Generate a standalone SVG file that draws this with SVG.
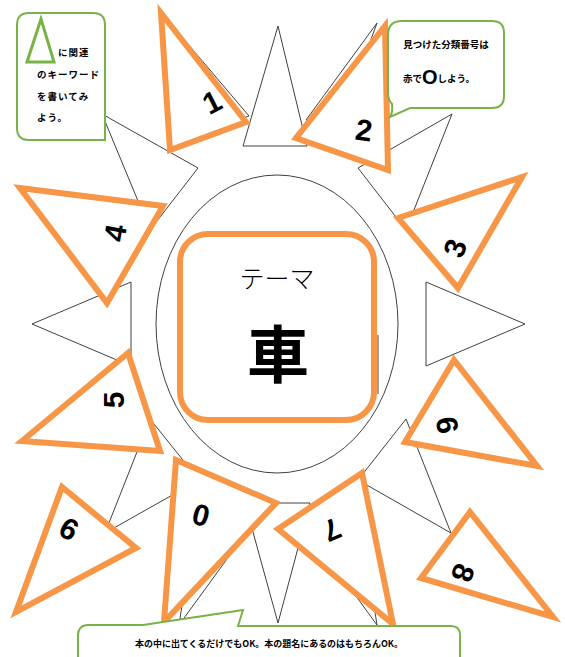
<svg xmlns="http://www.w3.org/2000/svg" width="565" height="657" viewBox="0 0 565 657">
<style>
.ray{fill:#fff;stroke:#404040;stroke-width:1}
.tri{fill:#fff;stroke:#F79646;stroke-width:6;stroke-linejoin:miter}
.num{font-family:"Liberation Sans",Arial,sans-serif;font-weight:bold;font-size:30px;fill:#000;text-anchor:middle;dominant-baseline:central}
.gr{fill:#fff;stroke:#77B347;stroke-width:2}
.jp{font-family:"Noto Sans CJK JP",sans-serif;font-weight:bold;fill:#000}
</style>
<rect width="565" height="657" fill="#fff"/>
<g id="rays">
<polygon class="ray" points="377,23 306,120 335,138"/>
<polygon class="ray" points="165,17 249,116 185,138"/>
<polygon class="ray" points="278,26 243,146 307,146"/>
<polygon class="ray" points="102,114 198,168 150,230"/>
<polygon class="ray" points="452,114 358,168 406,230"/>
<polygon class="ray" points="32,324 131,282 131,366"/>
<polygon class="ray" points="525,324 426,282 426,366"/>
<polygon class="ray" points="105,533 199,480 150,419"/>
<polygon class="ray" points="451,533 358,480 406,419"/>
<polygon class="ray" points="377,625 305,526 355,483"/>
<polygon class="ray" points="179,625 251,526 201,483"/>
<polygon class="ray" points="278,623 245,503 310,503"/>
</g>
<g id="sun">
<ellipse cx="277" cy="324" rx="121" ry="149" fill="#fff" stroke="#404040" stroke-width="1"/>
<line x1="378" y1="335" x2="378" y2="394" stroke="#808080" stroke-width="1.5"/>
<rect x="180" y="234" width="194" height="186" rx="28" fill="#fff" stroke="#F79646" stroke-width="6"/>
<text x="277" y="288" font-family="Noto Sans CJK JP,sans-serif" font-weight="300" font-size="25" text-anchor="middle" fill="#000">テーマ</text>
<text x="278" y="378" class="jp" font-size="62" font-weight="900" text-anchor="middle">車</text>
</g>
<g id="t1"><polygon class="tri" points="161,13 246,122 170,150"/><text class="num" transform="translate(212,102) rotate(-27)">1</text></g>
<g id="t2"><polygon class="tri" points="385,26 296,138 388,170"/><text class="num" transform="translate(364,130) rotate(8)">2</text></g>
<g id="t3"><polygon class="tri" points="398,218 522,177 458,288"/><text class="num" transform="translate(455,248) rotate(-70)">3</text></g>
<g id="t4"><polygon class="tri" points="20,188 163,206 107,303"/><text class="num" transform="translate(115,233) rotate(-80)">4</text></g>
<g id="t5"><polygon class="tri" points="128,353 22,441 160,451"/><text class="num" transform="translate(113,400) rotate(-90)">5</text></g>
<g id="t9"><polygon class="tri" points="454,360 405,442 537,466"/><text class="num" transform="translate(447,425) rotate(-100)">9</text></g>
<g id="t6"><polygon class="tri" points="62,487 136,548 16,612"/><text class="num" transform="translate(69,529) rotate(28)">6</text></g>
<g id="t0"><polygon class="tri" points="176,460 276,503 164,622"/><text class="num" transform="translate(201,515) rotate(15)">0</text></g>
<g id="t7"><polygon class="tri" points="362,473 278,529 393,624"/><text class="num" transform="translate(332,530) rotate(157)">7</text></g>
<g id="t8"><polygon class="tri" points="470,512 553,617 421,578"/><text class="num" transform="translate(463,573) rotate(110)">8</text></g>
<g id="callout-left">
<path class="gr" d="M29,13 H93 Q105,13 105,25 V140 H29 Q17,140 17,128 V25 Q17,13 29,13 Z"/>
<polygon points="41,19 27,62 54,62" fill="none" stroke="#77B347" stroke-width="3"/>
<text class="jp" font-size="9.5" letter-spacing="1"><tspan x="58" y="56">に関連</tspan><tspan x="37" y="78">のキーワード</tspan><tspan x="37" y="100">を書いてみ</tspan><tspan x="37" y="121">よう。</tspan></text>
</g>
<g id="callout-right">
<path class="gr" d="M402,21 H492 Q504,21 504,33 V96 Q504,108 492,108 H410 L390,117 Q393,112 392,104 Q388,100 388,92 V35 Q388,21 402,21 Z"/>
<text class="jp" font-size="9.5" text-anchor="middle" x="446" y="48">見つけた分類番号は</text>
<text class="jp" font-size="9.5" y="82"><tspan x="403">赤で</tspan><tspan font-family="Liberation Sans,Arial,sans-serif" font-size="20" dy="2">O</tspan><tspan dy="-2">しよう。</tspan></text>
</g>
<g id="callout-bottom">
<path class="gr" d="M460,660 V635 Q460,626 451,626 H238 L243,610 L143,625 H87 Q78,626 78,635 V660"/>
<text class="jp" font-size="9" x="269" y="647" text-anchor="middle" textLength="268" lengthAdjust="spacingAndGlyphs">本の中に出てくるだけでもOK。本の題名にあるのはもちろんOK。</text>
</g>
</svg>
